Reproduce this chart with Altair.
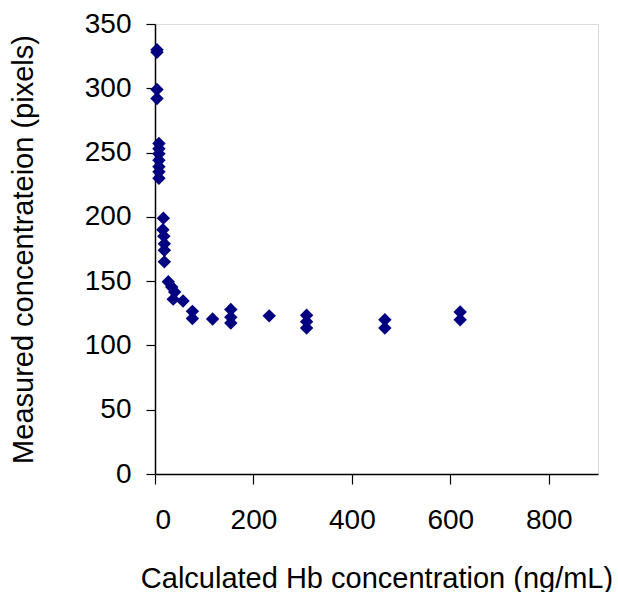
import altair as alt
import pandas as pd

hb_conc = [4, 4, 4, 4,
           8, 8, 8, 8, 8, 8, 8,
           17, 16, 18, 19, 19, 19,
           27, 34, 40, 37, 57,
           76, 76, 117,
           154, 154, 154,
           232,
           308, 308, 308,
           467, 467,
           620, 620]
measured = [330, 328, 299, 292,
            257, 253, 249, 244, 239, 235, 230,
            199, 190, 185, 179, 174, 165,
            149.5, 145.5, 141.5, 136, 134.5,
            126.5, 121, 120.5,
            128, 122, 117.5,
            123,
            123.5, 118.5, 113.5,
            120, 113.5,
            126, 120]

x_ticks = [0, 200, 400, 600, 800]
y_ticks = [0, 50, 100, 150, 200, 250, 300, 350]

df = pd.DataFrame({"x": hb_conc, "y": measured})

FONT = "Liberation Sans"

chart = alt.Chart(df).mark_point(
    shape="diamond", filled=True, color="#000080", size=180, opacity=1
).encode(
    x=alt.X("x:Q", scale=alt.Scale(domain=[0, 900], nice=False, zero=True),
            axis=alt.Axis(values=x_ticks, title="Calculated Hb concentration (ng/mL)",
                          grid=False, domainColor="black", domainWidth=1.5,
                          tickColor="black", tickSize=10, tickWidth=1.2,
                          labelFont=FONT, labelFontSize=28, labelColor="black",
                          labelPadding=22, titleFont=FONT, titleFontSize=29,
                          titleFontWeight="normal", titleColor="black",
                          titlePadding=30)),
    y=alt.Y("y:Q", scale=alt.Scale(domain=[0, 350], nice=False),
            axis=alt.Axis(values=y_ticks, title="Measured concentrateion (pixels)",
                          grid=False, domainColor="black", domainWidth=1.5,
                          tickColor="black", tickSize=9, tickWidth=1.2,
                          labelFont=FONT, labelFontSize=28, labelColor="black",
                          labelPadding=15, titleFont=FONT, titleFontSize=29,
                          titleFontWeight="normal", titleColor="black",
                          titlePadding=46)),
).properties(
    width=443, height=450,
    autosize=alt.AutoSizeParams(type="none"),
    padding={"left": 155, "top": 24, "right": 20, "bottom": 118},
).configure_view(
    stroke="#808080", strokeWidth=2
).configure(background="white")

chart.save("out.html", embed_options={"renderer": "svg", "actions": False})
